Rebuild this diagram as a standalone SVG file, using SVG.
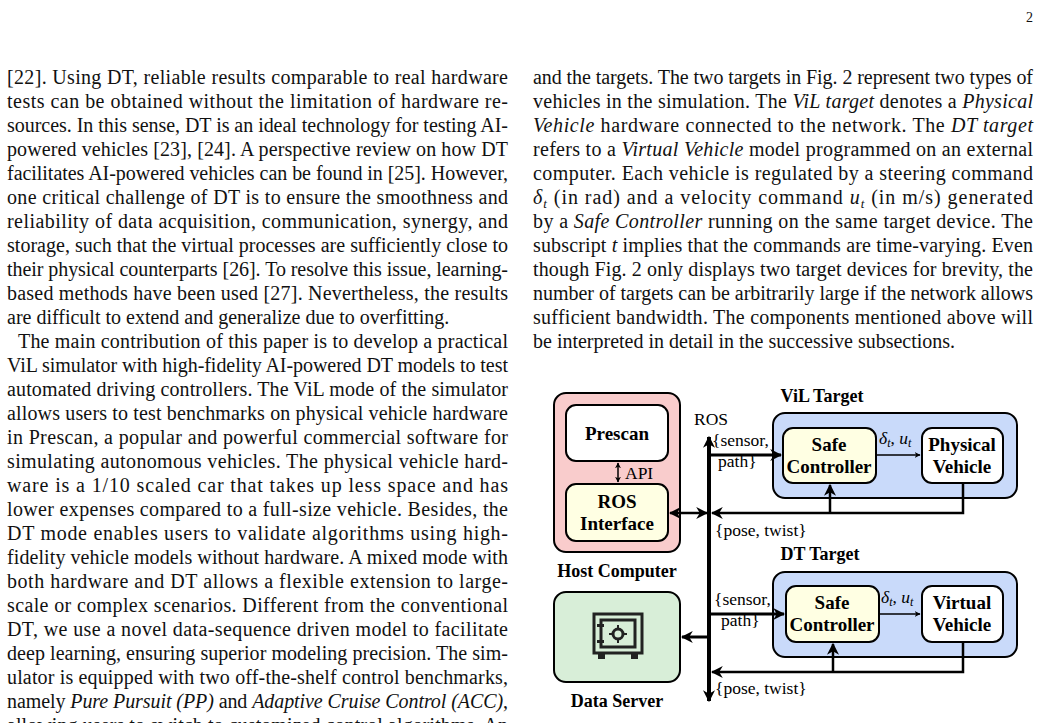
<svg xmlns="http://www.w3.org/2000/svg" width="1043" height="723" viewBox="0 0 1043 723">
<style>
.t{font-family:"Liberation Serif",serif;font-size:20px;fill:#111}
.i{font-style:italic}
.b{font-family:"Liberation Serif",serif;font-size:19px;font-weight:bold;fill:#000;text-anchor:middle}
.l{font-family:"Liberation Serif",serif;font-size:17.5px;fill:#000}
.box{stroke:#000;stroke-width:2}
.ln{stroke:#000;fill:none}
.s{font-size:13px}
</style>
<defs>
<marker id="a" viewBox="0 0 10 10" refX="9" refY="5" markerWidth="6" markerHeight="6" orient="auto-start-reverse" markerUnits="userSpaceOnUse"><path d="M0,0 L10,5 L0,10 L3,5 z" fill="#000"/></marker>
<marker id="A" viewBox="0 0 10 10" refX="9" refY="5" markerWidth="12" markerHeight="12" orient="auto-start-reverse" markerUnits="userSpaceOnUse"><path d="M0,0 L10,5 L0,10 L3,5 z" fill="#000"/></marker>
</defs>
<text x="1033" y="22" class="t" style="font-size:14px" text-anchor="end">2</text>
<g id="left-column">
<text class="t" x="7" y="84" textLength="501" lengthAdjust="spacing">[22]. Using DT, reliable results comparable to real hardware</text>
<text class="t" x="7" y="108" textLength="501" lengthAdjust="spacing">tests can be obtained without the limitation of hardware re-</text>
<text class="t" x="7" y="132" textLength="501" lengthAdjust="spacing">sources. In this sense, DT is an ideal technology for testing AI-</text>
<text class="t" x="7" y="156" textLength="501" lengthAdjust="spacing">powered vehicles [23], [24]. A perspective review on how DT</text>
<text class="t" x="7" y="180" textLength="501" lengthAdjust="spacing">facilitates AI-powered vehicles can be found in [25]. However,</text>
<text class="t" x="7" y="204" textLength="501" lengthAdjust="spacing">one critical challenge of DT is to ensure the smoothness and</text>
<text class="t" x="7" y="228" textLength="501" lengthAdjust="spacing">reliability of data acquisition, communication, synergy, and</text>
<text class="t" x="7" y="252" textLength="501" lengthAdjust="spacing">storage, such that the virtual processes are sufficiently close to</text>
<text class="t" x="7" y="276" textLength="501" lengthAdjust="spacing">their physical counterparts [26]. To resolve this issue, learning-</text>
<text class="t" x="7" y="300" textLength="501" lengthAdjust="spacing">based methods have been used [27]. Nevertheless, the results</text>
<text class="t" x="7" y="324">are difficult to extend and generalize due to overfitting.</text>
<text class="t" x="18" y="348" textLength="490" lengthAdjust="spacing">The main contribution of this paper is to develop a practical</text>
<text class="t" x="7" y="372" textLength="501" lengthAdjust="spacing">ViL simulator with high-fidelity AI-powered DT models to test</text>
<text class="t" x="7" y="396" textLength="501" lengthAdjust="spacing">automated driving controllers. The ViL mode of the simulator</text>
<text class="t" x="7" y="420" textLength="501" lengthAdjust="spacing">allows users to test benchmarks on physical vehicle hardware</text>
<text class="t" x="7" y="444" textLength="501" lengthAdjust="spacing">in Prescan, a popular and powerful commercial software for</text>
<text class="t" x="7" y="468" textLength="501" lengthAdjust="spacing">simulating autonomous vehicles. The physical vehicle hard-</text>
<text class="t" x="7" y="492" textLength="501" lengthAdjust="spacing">ware is a 1/10 scaled car that takes up less space and has</text>
<text class="t" x="7" y="516" textLength="501" lengthAdjust="spacing">lower expenses compared to a full-size vehicle. Besides, the</text>
<text class="t" x="7" y="540" textLength="501" lengthAdjust="spacing">DT mode enables users to validate algorithms using high-</text>
<text class="t" x="7" y="564" textLength="501" lengthAdjust="spacing">fidelity vehicle models without hardware. A mixed mode with</text>
<text class="t" x="7" y="588" textLength="501" lengthAdjust="spacing">both hardware and DT allows a flexible extension to large-</text>
<text class="t" x="7" y="612" textLength="501" lengthAdjust="spacing">scale or complex scenarios. Different from the conventional</text>
<text class="t" x="7" y="636" textLength="501" lengthAdjust="spacing">DT, we use a novel data-sequence driven model to facilitate</text>
<text class="t" x="7" y="660" textLength="501" lengthAdjust="spacing">deep learning, ensuring superior modeling precision. The sim-</text>
<text class="t" x="7" y="684" textLength="501" lengthAdjust="spacing">ulator is equipped with two off-the-shelf control benchmarks,</text>
<text class="t" x="7" y="708" textLength="501" lengthAdjust="spacing">namely <tspan class="i">Pure Pursuit (PP)</tspan> and <tspan class="i">Adaptive Cruise Control (ACC)</tspan>,</text>
<text class="t" x="7" y="732" textLength="501" lengthAdjust="spacing">allowing users to switch to customized control algorithms. An</text>
</g>
<g id="right-column">
<text class="t" x="533" y="84" textLength="500" lengthAdjust="spacing">and the targets. The two targets in Fig. 2 represent two types of</text>
<text class="t" x="533" y="108" textLength="500" lengthAdjust="spacing">vehicles in the simulation. The <tspan class="i">ViL target</tspan> denotes a <tspan class="i">Physical</tspan></text>
<text class="t" x="533" y="132" textLength="500" lengthAdjust="spacing"><tspan class="i">Vehicle</tspan> hardware connected to the network. The <tspan class="i">DT target</tspan></text>
<text class="t" x="533" y="156" textLength="500" lengthAdjust="spacing">refers to a <tspan class="i">Virtual Vehicle</tspan> model programmed on an external</text>
<text class="t" x="533" y="180" textLength="500" lengthAdjust="spacing">computer. Each vehicle is regulated by a steering command</text>
<text class="t" x="533" y="204" textLength="500" lengthAdjust="spacing"><tspan class="i">δ</tspan><tspan class="i s" dy="4">t</tspan><tspan dy="-4"> (in rad) and a velocity command </tspan><tspan class="i">u</tspan><tspan class="i s" dy="4">t</tspan><tspan dy="-4"> (in m/s) generated</tspan></text>
<text class="t" x="533" y="228" textLength="500" lengthAdjust="spacing">by a <tspan class="i">Safe Controller</tspan> running on the same target device. The</text>
<text class="t" x="533" y="252" textLength="500" lengthAdjust="spacing">subscript <tspan class="i">t</tspan> implies that the commands are time-varying. Even</text>
<text class="t" x="533" y="276" textLength="500" lengthAdjust="spacing">though Fig. 2 only displays two target devices for brevity, the</text>
<text class="t" x="533" y="300" textLength="500" lengthAdjust="spacing">number of targets can be arbitrarily large if the network allows</text>
<text class="t" x="533" y="324" textLength="500" lengthAdjust="spacing">sufficient bandwidth. The components mentioned above will</text>
<text class="t" x="533" y="348">be interpreted in detail in the successive subsections.</text>
</g>
<g id="host-computer">
<rect class="box" x="554" y="393" width="126" height="159" rx="12" fill="#f9cccc"/>
<text class="b" x="617" y="577" style="font-size:18px">Host Computer</text>
</g>
<g id="prescan">
<rect class="box" x="566" y="405" width="102" height="56" rx="10" fill="#fff"/>
<text class="b" x="617" y="440">Prescan</text>
</g>
<g id="ros-interface">
<rect class="box" x="566" y="484" width="102" height="57" rx="10" fill="#ffffe3"/>
<text class="b" x="617" y="508">ROS</text>
<text class="b" x="617" y="530">Interface</text>
</g>
<g id="data-server">
<rect class="box" x="554" y="592" width="126" height="90" rx="12" fill="#d8eed8"/>
<text class="b" x="617" y="707" style="font-size:18px">Data Server</text>
<g fill="none" stroke="#222" stroke-width="3">
<rect x="594" y="614" width="48" height="39"/>
<rect x="601" y="620" width="34" height="27"/>
<circle cx="618" cy="634" r="5"/>
</g>
<g fill="#222">
<rect x="598" y="653" width="7" height="6"/><rect x="631" y="653" width="7" height="6"/>
<rect x="597" y="624" width="7" height="3"/><rect x="597" y="640" width="7" height="3"/>
<rect x="617" y="625" width="2" height="4"/><rect x="617" y="639" width="2" height="4"/>
<rect x="609" y="633" width="4" height="2"/><rect x="623" y="633" width="4" height="2"/>
</g>
</g>
<g id="vil-target">
<rect class="box" x="773" y="413" width="244" height="85" rx="12" fill="#c9dafa"/>
<text class="b" x="822" y="402" style="font-size:18px">ViL Target</text>
</g>
<g id="safe-controller-1">
<rect class="box" x="783" y="428" width="93" height="55" rx="10" fill="#ffffe3"/>
<text class="b" x="829" y="451">Safe</text>
<text class="b" x="829" y="473">Controller</text>
</g>
<g id="physical-vehicle">
<rect class="box" x="922" y="428" width="81" height="55" rx="10" fill="#fff"/>
<text class="b" x="962" y="451">Physical</text>
<text class="b" x="962" y="473">Vehicle</text>
</g>
<g id="dt-target">
<rect class="box" x="773" y="572" width="244" height="85" rx="12" fill="#c9dafa"/>
<text class="b" x="820" y="560" style="font-size:18px">DT Target</text>
</g>
<g id="safe-controller-2">
<rect class="box" x="786" y="586" width="93" height="56" rx="10" fill="#ffffe3"/>
<text class="b" x="832" y="609">Safe</text>
<text class="b" x="832" y="631">Controller</text>
</g>
<g id="virtual-vehicle">
<rect class="box" x="922" y="586" width="81" height="56" rx="10" fill="#fff"/>
<text class="b" x="962" y="609">Virtual</text>
<text class="b" x="962" y="631">Vehicle</text>
</g>
<g id="connectors">
<line class="ln" x1="709" y1="437" x2="709" y2="701" stroke-width="4" marker-start="url(#A)" marker-end="url(#A)"/>
<line class="ln" x1="618" y1="463" x2="618" y2="482" stroke-width="1.5" marker-start="url(#a)" marker-end="url(#a)"/>
<line class="ln" x1="670" y1="513" x2="707" y2="513" stroke-width="2.5" marker-start="url(#A)" marker-end="url(#A)"/>
<line class="ln" x1="709" y1="455" x2="781" y2="455" stroke-width="3" marker-end="url(#A)"/>
<line class="ln" x1="876" y1="455" x2="920" y2="455" stroke-width="1.5" marker-end="url(#a)"/>
<polyline class="ln" points="963,483 963,513 712,513" stroke-width="2.5" marker-end="url(#A)"/>
<line class="ln" x1="830" y1="513" x2="830" y2="485" stroke-width="2.5" marker-end="url(#A)"/>
<line class="ln" x1="709" y1="614" x2="784" y2="614" stroke-width="3" marker-end="url(#A)"/>
<line class="ln" x1="879" y1="614" x2="920" y2="614" stroke-width="1.5" marker-end="url(#a)"/>
<polyline class="ln" points="963,642 963,672 712,672" stroke-width="2.5" marker-end="url(#A)"/>
<line class="ln" x1="833" y1="672" x2="833" y2="644" stroke-width="2.5" marker-end="url(#A)"/>
<line class="ln" x1="709" y1="637" x2="682" y2="637" stroke-width="3" marker-end="url(#A)"/>
<text class="l" x="694" y="425">ROS</text>
<text class="l" x="625" y="479">API</text>
<text class="l" x="712" y="446">{sensor,</text>
<text class="l" x="718" y="467">path}</text>
<text class="l" x="715" y="536">{pose, twist}</text>
<text class="l" x="714" y="605">{sensor,</text>
<text class="l" x="721" y="626">path}</text>
<text class="l" x="715" y="694">{pose, twist}</text>
<text class="l" x="879" y="444"><tspan font-style="italic">δ</tspan><tspan font-style="italic" font-size="12" dy="3">t</tspan><tspan dy="-3">, </tspan><tspan font-style="italic">u</tspan><tspan font-style="italic" font-size="12" dy="3">t</tspan></text>
<text class="l" x="881" y="603"><tspan font-style="italic">δ</tspan><tspan font-style="italic" font-size="12" dy="3">t</tspan><tspan dy="-3">, </tspan><tspan font-style="italic">u</tspan><tspan font-style="italic" font-size="12" dy="3">t</tspan></text>
</g>
</svg>
